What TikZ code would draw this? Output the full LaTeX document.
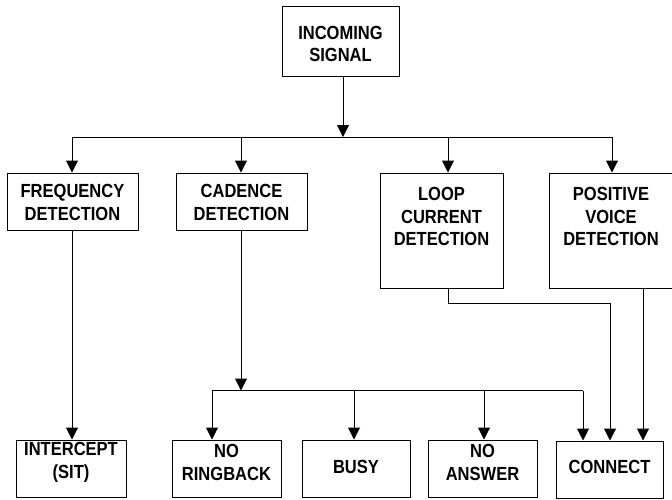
\documentclass[tikz,border=0pt]{standalone}
\usepackage{fontspec}
\setmainfont{Liberation Sans}[FakeStretch=0.87]
\usetikzlibrary{arrows.meta}
\begin{document}
\begin{tikzpicture}[x=1pt,y=-1pt,
  box/.style={draw, line width=1pt, inner sep=0pt},
  lbl/.style={inner sep=0pt, align=center,
    font=\fontsize{19}{22.5}\selectfont\bfseries},
  link/.style={line width=1pt, -{Triangle[width=12pt,length=12pt]}},
  wire/.style={line width=1pt}]
\useasboundingbox (0,0) rectangle (672,499);
% top node
\node[box, minimum width=117pt, minimum height=70pt] (in) at (340.5,41) {};
\node[lbl] (inT) at ([yshift=-3pt]in.center) {INCOMING\\SIGNAL};
% detection stage
\node[box, minimum width=131pt, minimum height=57pt] (freq) at (72.5,201.5) {};
\node[lbl] (freqT) at ([yshift=-1pt]freq.center) {FREQUENCY\\DETECTION};
\node[box, minimum width=131pt, minimum height=57pt] (cad) at (241.5,201.5) {};
\node[lbl] (cadT) at ([yshift=-1pt]cad.center) {CADENCE\\DETECTION};
\node[box, minimum width=123pt, minimum height=115pt] (loop) at (441.5,230.5) {};
\node[lbl] (loopT) at ([yshift=14pt]loop.center) {LOOP\\CURRENT\\DETECTION};
\node[box, minimum width=124pt, minimum height=115pt] (pos) at (611,230.5) {};
\node[lbl] (posT) at ([yshift=14pt]pos.center) {POSITIVE\\VOICE\\DETECTION};
% results
\node[box, minimum width=110pt, minimum height=57pt] (sit) at (71,468.5) {};
\node[lbl] (sitT) at ([yshift=6pt]sit.center) {INTERCEPT\\(SIT)};
\node[box, minimum width=109pt, minimum height=57pt] (noring) at (226.5,468.5) {};
\node[lbl] (noringT) at ([yshift=6pt]noring.center) {NO\\RINGBACK};
\node[box, minimum width=108pt, minimum height=57pt] (busy) at (356,468.5) {};
\node[lbl] (busyT) at ([yshift=2pt]busy.center) {BUSY};
\node[box, minimum width=109pt, minimum height=57pt] (noans) at (482.5,468.5) {};
\node[lbl] (noansT) at ([yshift=6pt]noans.center) {NO\\ANSWER};
\node[box, minimum width=107pt, minimum height=57pt] (conn) at (609.5,469.5) {};
\node[lbl] (connT) at ([yshift=3pt]conn.center) {CONNECT};
% junction points
\coordinate (top) at (343,137);
\coordinate (mid) at (241,390.5);
% fan-out from the incoming signal
\draw[link] (in.south -| top) -- (top);
\draw[wire] (72,137) -- (612,137);
\draw[link] (72,137) -- (freq.north -| 72,0);
\draw[link] (241,137) -- (cad.north -| 241,0);
\draw[link] (448,137) -- (loop.north -| 448,0);
\draw[link] (612,137) -- (pos.north -| 612,0);
% frequency to intercept
\draw[link] (freq.south -| 72,0) -- (sit.north -| 72,0);
% cadence fan-out
\draw[link] (cad.south -| mid) -- (mid);
\draw[wire] (212,390.5) -- (583,390.5);
\draw[link] (212,390.5) -- (noring.north -| 212,0);
\draw[link] (354,390.5) -- (busy.north -| 354,0);
\draw[link] (484,390.5) -- (noans.north -| 484,0);
\draw[link] (583,390.5) -- (conn.north -| 583,0);
% loop current and voice to connect
\draw[link] (loop.south -| 448,0) |- (610,303) -- (conn.north -| 610,0);
\draw[link] (pos.south -| 643,0) -- (conn.north -| 643,0);
\end{tikzpicture}
\end{document}
